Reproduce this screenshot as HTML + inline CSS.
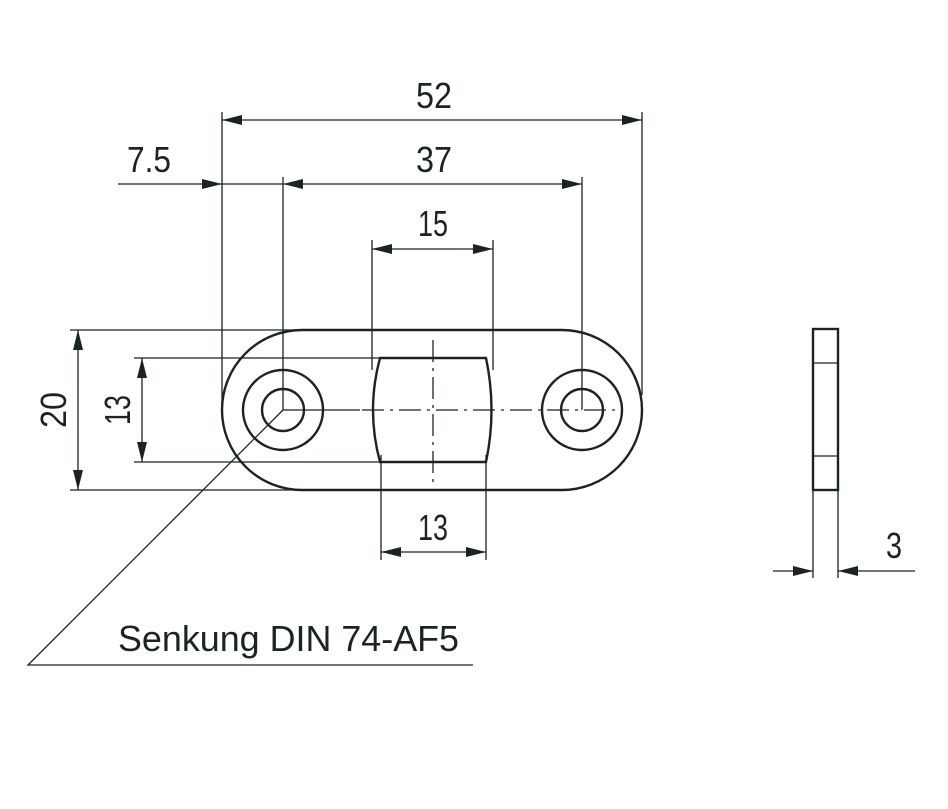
<!DOCTYPE html>
<html><head><meta charset="utf-8"><style>html,body{margin:0;padding:0;background:#fff}svg{display:block}</style></head>
<body>
<svg width="948" height="809" viewBox="0 0 948 809" xmlns="http://www.w3.org/2000/svg">
<defs>
<marker id="a" viewBox="0 0 20 10" refX="20" refY="5" markerWidth="20" markerHeight="10" markerUnits="userSpaceOnUse" orient="auto-start-reverse"><path d="M0,0 L20,5 L0,10 Z" fill="#1a2420"/></marker>
</defs>
<g stroke="#1a2420" fill="none" stroke-width="1.3">
<!-- extension lines -->
<line x1="222" y1="112" x2="222" y2="410"/>
<line x1="642" y1="112" x2="642" y2="395"/>
<line x1="283" y1="177" x2="283" y2="410"/>
<line x1="582" y1="177" x2="582" y2="410"/>
<line x1="372" y1="240" x2="372" y2="370"/>
<line x1="493" y1="240" x2="493" y2="370"/>
<line x1="381" y1="455" x2="381" y2="560"/>
<line x1="486" y1="455" x2="486" y2="560"/>
<line x1="70" y1="330" x2="300" y2="330"/>
<line x1="70" y1="490" x2="300" y2="490"/>
<line x1="134" y1="358" x2="380" y2="358"/>
<line x1="134" y1="462" x2="380" y2="462"/>
<!-- dimension lines -->
<line x1="222" y1="120" x2="642" y2="120" marker-start="url(#a)" marker-end="url(#a)"/>
<line x1="300" y1="184" x2="582" y2="184" marker-end="url(#a)"/>
<line x1="283" y1="184" x2="302" y2="184" marker-start="url(#a)"/>
<line x1="118" y1="184" x2="222" y2="184" marker-end="url(#a)"/>
<line x1="222" y1="184" x2="283" y2="184"/>
<line x1="372" y1="249" x2="493" y2="249" marker-start="url(#a)" marker-end="url(#a)"/>
<line x1="381" y1="552" x2="486" y2="552" marker-start="url(#a)" marker-end="url(#a)"/>
<line x1="78" y1="330" x2="78" y2="490" marker-start="url(#a)" marker-end="url(#a)"/>
<line x1="142" y1="358" x2="142" y2="462" marker-start="url(#a)" marker-end="url(#a)"/>
<!-- center lines -->
<line x1="283" y1="410" x2="360" y2="410"/>
<line x1="362" y1="410" x2="620" y2="410" stroke-dasharray="22,6,3,6"/>
<line x1="433" y1="340" x2="433" y2="482" stroke-dasharray="22,6,3,6"/>
<!-- leader -->
<polyline points="283,410 28,665 473,665"/>
<!-- side view ext -->
<line x1="813" y1="490" x2="813" y2="578"/>
<line x1="838" y1="490" x2="838" y2="578"/>
<line x1="773" y1="571" x2="813" y2="571" marker-end="url(#a)"/>
<line x1="915" y1="571" x2="838" y2="571" marker-end="url(#a)"/>
<line x1="813" y1="363" x2="838" y2="363"/>
<line x1="813" y1="456" x2="838" y2="456"/>
</g>
<g stroke="#1a2420" fill="none" stroke-width="2.4">
<path d="M302,330 L562,330 A80,80 0 0 1 562,490 L302,490 A80,80 0 0 1 302,330 Z"/>
<circle cx="283" cy="410" r="40"/>
<circle cx="283" cy="410" r="21"/>
<circle cx="582" cy="410" r="40"/>
<circle cx="582" cy="410" r="21"/>
<path d="M380,358 L486,358 Q497,410 486,462 L380,462 Q366,410 380,358 Z"/>
<rect x="813" y="329" width="25" height="161"/>
</g>
<g fill="#1a2420" font-family="Liberation Sans, sans-serif" font-size="36">
<text x="416" y="108" textLength="36" lengthAdjust="spacingAndGlyphs">52</text>
<text x="416" y="172" textLength="36" lengthAdjust="spacingAndGlyphs">37</text>
<text x="127" y="172" textLength="44" lengthAdjust="spacingAndGlyphs">7.5</text>
<text x="418" y="236" textLength="30" lengthAdjust="spacingAndGlyphs">15</text>
<text x="418" y="540" textLength="30" lengthAdjust="spacingAndGlyphs">13</text>
<text x="886" y="558" textLength="16" lengthAdjust="spacingAndGlyphs">3</text>
<text transform="translate(66,428) rotate(-90)" textLength="36" lengthAdjust="spacingAndGlyphs">20</text>
<text transform="translate(130,425) rotate(-90)" textLength="30" lengthAdjust="spacingAndGlyphs">13</text>
<text x="118" y="651" textLength="341" lengthAdjust="spacingAndGlyphs">Senkung DIN 74-AF5</text>
</g>
</svg>
</body></html>
